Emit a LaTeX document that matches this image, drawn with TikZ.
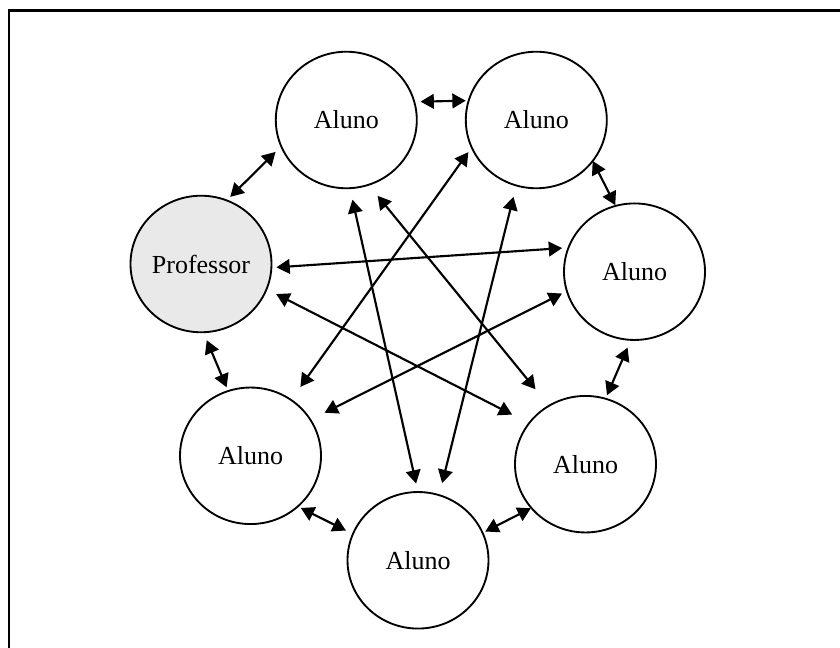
\documentclass[tikz,border=0pt]{standalone}
\usepackage{fontspec}
\setmainfont{Liberation Serif}
\usetikzlibrary{shapes.geometric,arrows.meta}

\definecolor{profgray}{HTML}{E9E9E9}

\tikzset{
  aluno/.style={ellipse, draw, line width=1.4pt, inner sep=0pt, outer sep=0pt,
    minimum width=105.75pt, minimum height=102.4pt,
    font=\fontsize{19.5}{23}\selectfont},
  professor/.style={aluno, fill=profgray},
  seta/.style={line width=1.6pt,
    {Triangle[length=10pt,width=11pt]}-{Triangle[length=10pt,width=11pt]}}
}

\begin{document}
\begin{tikzpicture}[x=0.75pt,y=-0.75pt]

\useasboundingbox (0,0) rectangle (840,648);

% Frame
\draw[line width=1.6pt] (8.7,648) -- (8.7,10.5) -- (840,10.5);

% Nodes
\node[professor] (prof) at (201,264) {Professor};
\node[aluno] (a1) at (346.3,120) {Aluno};
\node[aluno] (a2) at (536.3,120) {Aluno};
\node[aluno] (a3) at (634.5,271.7) {Aluno};
\node[aluno] (a4) at (585.5,464.2) {Aluno};
\node[aluno] (a5) at (418,560.3) {Aluno};
\node[aluno] (a6) at (250.5,455.8) {Aluno};

% Arrows round the ring
\foreach \a/\b/\s/\e in {prof.68/a1.202/3.75/6, a1.15/a2.164/4.7/2.25,
    a2.-36/a3.106/0/0.6, a3.267/a4.73/6.3/2.85, a4.219/a5.23/0.45/2.25,
    a5.158/a6.-47/5.85/2.55, a6.109/prof.272/3/6.5}
  \draw[seta, shorten <=\s pt, shorten >=\e pt] (\a) -- (\b);

% Arrows across
\foreach \a/\b/\s/\e in {prof.-3/a3.160/3.75/4.8, prof.-21/a4.144/8.1/14.25,
    a1.273/a5.90/8.85/6.5, a1.-71/a4.122/10.7/16, a2.203/a6.54/4.35/12,
    a2.253/a5.72/8.7/9.3, a3.196/a6.31/4.1/11.85}
  \draw[seta, shorten <=\s pt, shorten >=\e pt] (\a) -- (\b);

\end{tikzpicture}
\end{document}
